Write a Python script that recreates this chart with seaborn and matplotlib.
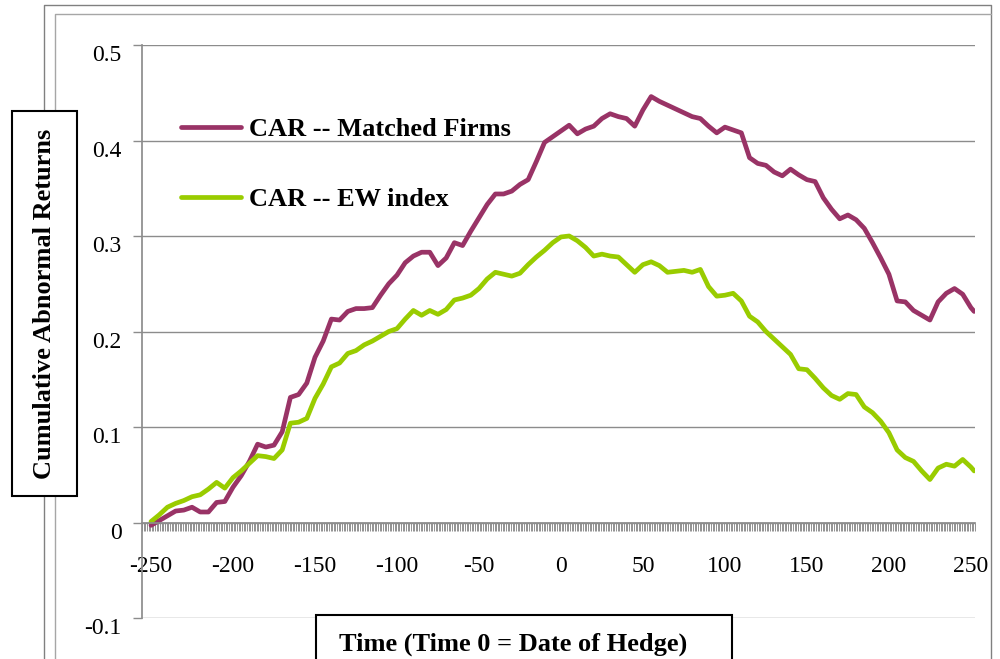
import numpy as np
import pandas as pd
import matplotlib.pyplot as plt
import seaborn as sns
from matplotlib.patches import Rectangle
from matplotlib.lines import Line2D
from matplotlib.ticker import MultipleLocator
import matplotlib.transforms as mtransforms

sns.set_theme(style="white")
plt.rcParams["font.family"] = ["Liberation Serif", "DejaVu Serif"]
plt.rcParams["axes.unicode_minus"] = False
plt.rcParams["text.color"] = "black"

# Event days (every 5th day)
days = list(range(-250, 251, 5)) + [252]

car_matched = [
    -0.003, 0.002, 0.007, 0.012, 0.013, 0.016, 0.011, 0.011, 0.021, 0.022,
    0.037, 0.049, 0.064, 0.082, 0.079, 0.081, 0.095, 0.131, 0.134, 0.146,
    0.173, 0.190, 0.213, 0.212, 0.221, 0.224, 0.224, 0.225, 0.238, 0.250,
    0.259, 0.272, 0.279, 0.283, 0.283, 0.269, 0.277, 0.293, 0.290, 0.305,
    0.319, 0.333, 0.344, 0.344, 0.347, 0.354, 0.359, 0.378, 0.398, 0.404,
    0.410, 0.416, 0.407, 0.412, 0.415, 0.423, 0.428, 0.425, 0.423, 0.415,
    0.432, 0.446, 0.441, 0.437, 0.433, 0.429, 0.425, 0.423, 0.415, 0.408,
    0.414, 0.411, 0.408, 0.382, 0.376, 0.374, 0.367, 0.363, 0.370, 0.364,
    0.359, 0.357, 0.340, 0.328, 0.318, 0.322, 0.317, 0.308, 0.293, 0.277,
    0.260, 0.232, 0.231, 0.222, 0.217, 0.212, 0.231, 0.240, 0.245, 0.239,
    0.225, 0.221,
]

car_ew = [
    0.001, 0.008, 0.016, 0.020, 0.023, 0.027, 0.029, 0.035, 0.042, 0.036,
    0.047, 0.054, 0.062, 0.070, 0.069, 0.067, 0.076, 0.104, 0.105, 0.109,
    0.130, 0.145, 0.163, 0.167, 0.177, 0.180, 0.186, 0.190, 0.195, 0.200,
    0.203, 0.213, 0.222, 0.217, 0.222, 0.218, 0.223, 0.233, 0.235, 0.238,
    0.245, 0.255, 0.262, 0.260, 0.258, 0.261, 0.270, 0.278, 0.285, 0.293,
    0.299, 0.300, 0.295, 0.288, 0.279, 0.281, 0.279, 0.278, 0.270, 0.262,
    0.270, 0.273, 0.269, 0.262, 0.263, 0.264, 0.262, 0.265, 0.247, 0.237,
    0.238, 0.240, 0.232, 0.216, 0.210, 0.200, 0.192, 0.184, 0.176, 0.161,
    0.160, 0.151, 0.141, 0.133, 0.129, 0.135, 0.134, 0.121, 0.115, 0.106,
    0.094, 0.076, 0.068, 0.064, 0.054, 0.045, 0.057, 0.061, 0.059, 0.066,
    0.058, 0.054,
]

series_names = ["CAR -- Matched Firms", "CAR -- EW index"]
series_colors = ["#993366", "#99CC00"]

x_ticks = list(range(-250, 251, 50))
x_tick_labels = [str(v) for v in x_ticks]
y_ticks = [-0.1, 0, 0.1, 0.2, 0.3, 0.4, 0.5]
y_tick_labels = ["-0.1", "0", "0.1", "0.2", "0.3", "0.4", "0.5"]

df = pd.DataFrame({
    "Day": days + days,
    "CAR": car_matched + car_ew,
    "Series": [series_names[0]] * len(days) + [series_names[1]] * len(days),
})

W, H = 1000, 659
grid_gray = "#8c8c8c"

fig = plt.figure(figsize=(10, 6.59), dpi=100)
ax = fig.add_axes([142 / W, 1 - 618 / H, 833 / W, 573 / H])

sns.lineplot(data=df, x="Day", y="CAR", hue="Series",
             palette=dict(zip(series_names, series_colors)),
             linewidth=3.4, ax=ax)

ax.set_xlim(-255.5, 252.5)
ax.set_ylim(-0.1, 0.5)
ax.set_xlabel("")
ax.set_ylabel("")

# y axis: gridlines + outward ticks
ax.set_yticks(y_ticks)
ax.set_yticklabels(y_tick_labels)
ax.yaxis.grid(True, color=grid_gray, linewidth=1)
ax.xaxis.grid(False)
ax.tick_params(axis="y", which="major", left=True, direction="out",
               length=6.5, width=1, color=grid_gray, labelsize=17, pad=8,
               labelcolor="black")
for lab in ax.get_yticklabels():
    lab.set_transform(lab.get_transform() +
                      mtransforms.ScaledTranslation(0, -6 / 72, fig.dpi_scale_trans))

# x axis crosses at y = 0, daily tick marks
for s in ["top", "right"]:
    ax.spines[s].set_visible(False)
ax.spines["left"].set_color(grid_gray)
ax.spines["bottom"].set_color(grid_gray)
ax.spines["bottom"].set_position(("data", 0))
ax.set_xticks(x_ticks)
ax.set_xticklabels(x_tick_labels)
ax.tick_params(axis="x", which="major", bottom=True, length=0,
               labelsize=17, pad=24, labelcolor="black")
ax.xaxis.set_minor_locator(MultipleLocator(1, offset=0.5))
ax.tick_params(axis="x", which="minor", bottom=True, direction="out",
               length=6, width=0.6, color="#808080")

# legend inside the plot, no frame
handles, labels = ax.get_legend_handles_labels()
ax.legend(handles, labels, loc="upper left",
          bbox_to_anchor=(181 / W, 1 - 118 / H), bbox_transform=fig.transFigure,
          frameon=False, prop={"size": 19, "weight": "bold"},
          handlelength=2.27, handletextpad=0.3, labelspacing=1.75,
          borderpad=0, borderaxespad=0)

# chart area border (double line, cropped at bottom)
fig.add_artist(Line2D([44 / W, 44 / W, 991 / W, 991 / W],
                      [-0.1, 1 - 5 / H, 1 - 5 / H, -0.1],
                      transform=fig.transFigure, color="#808080", lw=1, zorder=0.5))
fig.add_artist(Line2D([55 / W, 55 / W, 991 / W],
                      [-0.1, 1 - 14 / H, 1 - 14 / H],
                      transform=fig.transFigure, color="#a6a6a6", lw=1, zorder=0.5))

# boxed axis titles
fig.add_artist(Rectangle((12 / W, 1 - 496 / H), 65 / W, 385 / H,
                         transform=fig.transFigure, facecolor="white",
                         edgecolor="black", lw=1.5, zorder=3))
fig.text(44.5 / W, 1 - 303.5 / H, "Cumulative Abnormal Returns", rotation=90,
         ha="center", va="center", fontsize=19, fontweight="bold", zorder=4)

fig.add_artist(Rectangle((316 / W, 1 - 700 / H), 416 / W, 85 / H,
                         transform=fig.transFigure, facecolor="white",
                         edgecolor="black", lw=1.5, zorder=3))
fig.text(513 / W, 1 - 651 / H, "Time (Time 0 = Date of Hedge)",
         ha="center", va="baseline", fontsize=19, fontweight="bold", zorder=4)

fig.savefig("out.png", dpi=100)
plt.close(fig)
